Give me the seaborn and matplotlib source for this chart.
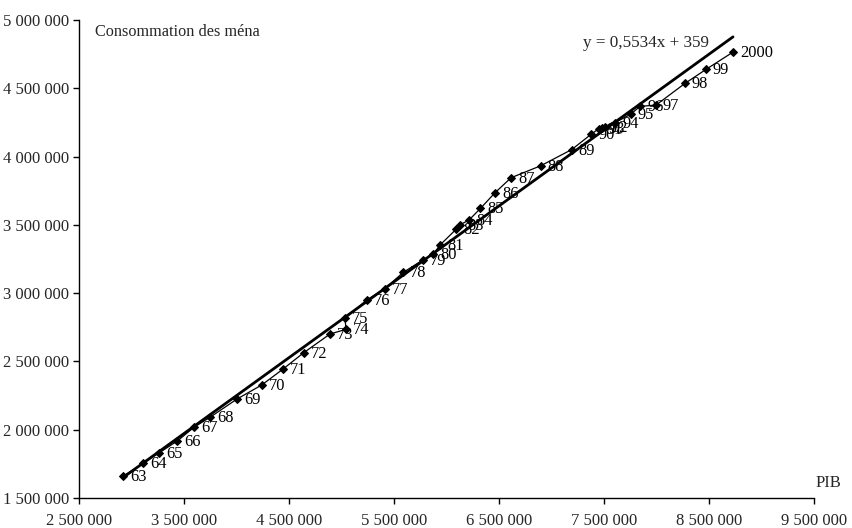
import matplotlib
matplotlib.use("Agg")
import matplotlib.pyplot as plt
import seaborn as sns
import pandas as pd

years = ["63", "64", "65", "66", "67", "68", "69", "70", "71", "72", "73", "74", "75",
         "76", "77", "78", "79", "80", "81", "82", "83", "84", "85", "86", "87", "88",
         "89", "90", "91", "92", "93", "94", "95", "96", "97", "98", "99", "2000"]
pib = [2921900, 3112400, 3264800, 3436200, 3598100, 3747600, 4004800, 4240000, 4440000,
       4640000, 4890500, 5042900, 5033300, 5240000, 5411400, 5588600, 5773300, 5874300,
       5938100, 6090500, 6128600, 6214300, 6323800, 6461900, 6614300, 6897100, 7192400,
       7376200, 7452400, 7509500, 7476200, 7604800, 7752400, 7842900, 7995200, 8271400,
       8471400, 8728600]
conso = [1661000, 1754000, 1831600, 1917300, 2019800, 2090800, 2224700, 2327200, 2442200,
         2563700, 2700600, 2735000, 2815500, 2949500, 3032200, 3152300, 3242300, 3286200,
         3352100, 3467000, 3500700, 3535100, 3620800, 3735000, 3844800, 3932600, 4051200,
         4162500, 4205000, 4216000, 4212300, 4248800, 4308900, 4367500, 4377000, 4535900,
         4638300, 4765000]

x_ticks = [2500000, 3500000, 4500000, 5500000, 6500000, 7500000, 8500000, 9500000]
x_tick_labels = ["2 500 000", "3 500 000", "4 500 000", "5 500 000", "6 500 000",
                 "7 500 000", "8 500 000", "9 500 000"]
y_ticks = [1500000, 2000000, 2500000, 3000000, 3500000, 4000000, 4500000, 5000000]
y_tick_labels = ["1 500 000", "2 000 000", "2 500 000", "3 000 000", "3 500 000",
                 "4 000 000", "4 500 000", "5 000 000"]

y_title = "Consommation des ména"
x_title = "PIB"
equation = "y = 0,5534x + 359"

df = pd.DataFrame({"year": years, "PIB": pib, "conso": conso})

sns.set_style("ticks")
plt.rcParams["font.family"] = ["Liberation Serif", "DejaVu Serif"]

fig = plt.figure(figsize=(8.52, 5.28), dpi=100)
ax = fig.add_axes([79 / 852, 1 - 498 / 528, (814 - 79) / 852, (498 - 20) / 528])

sns.lineplot(data=df, x="PIB", y="conso", sort=False, estimator=None, ax=ax,
             color="black", linewidth=0.9, marker="D", markersize=4.2,
             markeredgecolor="black", markerfacecolor="black")
sns.regplot(data=df, x="PIB", y="conso", ci=None, scatter=False, ax=ax,
            line_kws=dict(color="black", linewidth=2))

for yr, xv, yv in zip(df["year"], df["PIB"], df["conso"]):
    ax.annotate(yr, (xv, yv), xytext=(7, -1), textcoords="offset pixels",
                ha="left", va="center", fontsize=11.8, color="black")

ax.set_xlim(2500000, 9500000)
ax.set_ylim(1500000, 5000000)
ax.set_xticks(x_ticks)
ax.set_xticklabels(x_tick_labels, fontsize=12)
ax.set_yticks(y_ticks)
ax.set_yticklabels(y_tick_labels, fontsize=12)
ax.tick_params(axis="both", direction="out", length=4, width=1, color="black", pad=3)
ax.tick_params(axis="x", pad=7)
ax.set_xlabel("")
ax.set_ylabel("")
sns.despine(ax=ax)
for s in ["left", "bottom"]:
    ax.spines[s].set_color("black")
    ax.spines[s].set_linewidth(1)

fig.text(95 / 852, 1 - 32 / 528, y_title, fontsize=11.7, ha="left", va="center")
fig.text(583 / 852, 1 - 43 / 528, equation, fontsize=12.3, ha="left", va="center")
fig.text(816 / 852, 1 - 483 / 528, x_title, fontsize=12, ha="left", va="center")

fig.savefig("out.png", dpi=100, facecolor="white")
